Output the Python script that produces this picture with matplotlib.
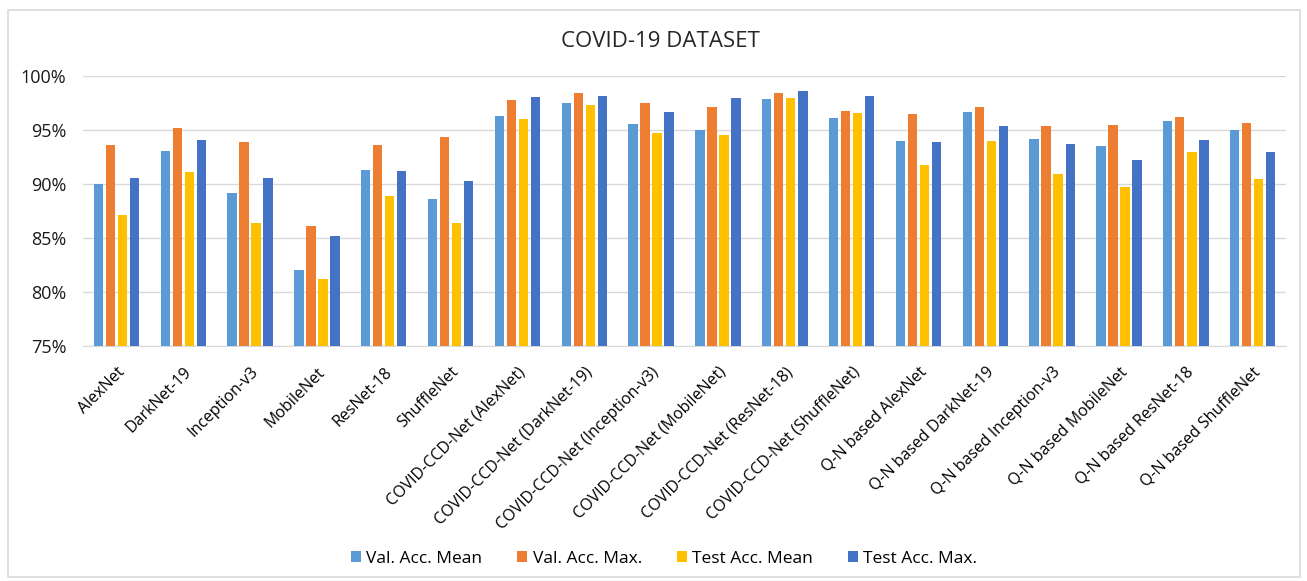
import matplotlib.pyplot as plt
import numpy as np
from matplotlib.patches import Rectangle

plt.rcParams['font.family'] = ['Open Sans', 'DejaVu Sans']

models = ['AlexNet', 'DarkNet-19', 'Inception-v3', 'MobileNet', 'ResNet-18', 'ShuffleNet',
          'COVID-CCD-Net (AlexNet)', 'COVID-CCD-Net (DarkNet-19)', 'COVID-CCD-Net (Inception-v3)',
          'COVID-CCD-Net (MobileNet)', 'COVID-CCD-Net (ResNet-18)', 'COVID-CCD-Net (ShuffleNet)',
          'Q-N based AlexNet', 'Q-N based DarkNet-19', 'Q-N based Inception-v3',
          'Q-N based MobileNet', 'Q-N based ResNet-18', 'Q-N based ShuffleNet']

val_mean = [90.0, 93.1, 89.2, 82.0, 91.3, 88.6,
            96.3, 97.5, 95.6, 95.0, 97.9, 96.1,
            94.0, 96.7, 94.2, 93.5, 95.8, 95.0]
val_max = [93.6, 95.2, 93.9, 86.1, 93.6, 94.4,
           97.8, 98.4, 97.5, 97.1, 98.4, 96.8,
           96.5, 97.1, 95.4, 95.5, 96.2, 95.7]
test_mean = [87.1, 91.1, 86.4, 81.25, 88.9, 86.4,
             96.0, 97.3, 94.7, 94.5, 98.0, 96.6,
             91.8, 94.0, 90.95, 89.7, 93.0, 90.5]
test_max = [90.6, 94.1, 90.6, 85.2, 91.2, 90.3,
            98.1, 98.2, 96.7, 98.0, 98.6, 98.15,
            93.9, 95.4, 93.7, 92.2, 94.1, 93.0]

series = ['Val. Acc. Mean', 'Val. Acc. Max.', 'Test Acc. Mean', 'Test Acc. Max.']
colors = ['#5B9BD5', '#ED7D31', '#FFC000', '#4472C4']

fig = plt.figure(figsize=(13.07, 5.81), dpi=100)
fig.patch.set_facecolor('white')
# thin frame around the whole chart area
fig.patches.append(Rectangle((8 / 1307, 4 / 581), 1292 / 1307, 567 / 581,
                             transform=fig.transFigure, fill=False,
                             edgecolor='#D9D9D9', linewidth=1.2))

ax = fig.add_axes([0.0635, 0.4045, 0.9205, 0.4645])
x = np.arange(len(models))
width = 0.14
step = 0.18
for i, (vals, name, c) in enumerate(zip([val_mean, val_max, test_mean, test_max], series, colors)):
    ax.bar(x + (i - 1.5) * step, vals, width, color=c, label=name, zorder=3)

ax.set_ylim(75, 100)
ax.set_xlim(-0.5, len(models) - 0.5)
ax.set_yticks(np.arange(75, 101, 5))
ax.set_yticklabels([f'{v}%' for v in range(75, 101, 5)], fontsize=13, color='#1a1a1a')
ax.yaxis.grid(True, color='#D9D9D9', linewidth=1, zorder=0)
ax.set_xticks(x)
ax.set_xticklabels(models, rotation=45, ha='right', rotation_mode='anchor',
                   fontsize=11.5, color='black')
ax.tick_params(axis='both', length=0)
ax.tick_params(axis='y', pad=12)
ax.tick_params(axis='x', pad=13)
for s in ['top', 'right', 'left']:
    ax.spines[s].set_visible(False)
ax.spines['bottom'].set_color('#D9D9D9')

fig.text(0.505, 0.928, 'COVID-19 DATASET', ha='center', va='center', fontsize=16, color='#262626')

fig.legend(loc='center', bbox_to_anchor=(0.508, 0.038), ncol=4, frameon=False, fontsize=12.5,
           handlelength=0.6, handleheight=0.6, handletextpad=0.3, columnspacing=2.0)

fig.savefig('out.png', dpi=100)
